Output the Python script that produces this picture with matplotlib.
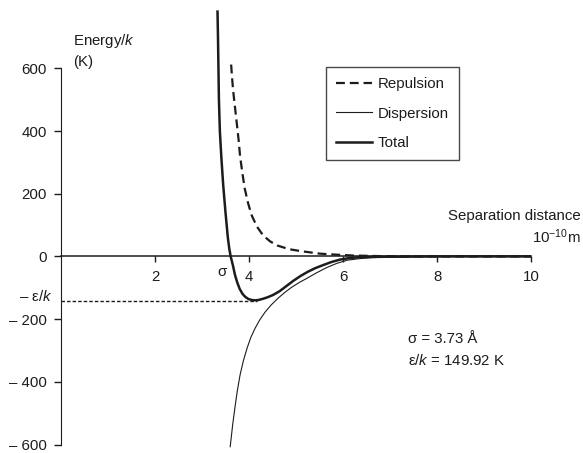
import matplotlib
matplotlib.use("Agg")
import matplotlib.pyplot as plt

plt.rcParams['font.family'] = ['Liberation Sans', 'DejaVu Sans']
plt.rcParams['mathtext.fontset'] = 'custom'
plt.rcParams['mathtext.rm'] = 'Liberation Sans'
plt.rcParams['mathtext.it'] = 'Liberation Sans:italic'

# ---- data ----
rep_r = [3.62, 3.64, 3.66, 3.70, 3.74, 3.78, 3.81, 3.86, 3.91, 3.98, 4.06, 4.17, 4.30,
         4.45, 4.60, 4.75, 4.90, 5.10, 5.30, 5.50, 5.70, 5.95, 6.20, 6.50, 6.80, 7.50, 10.0]
rep_e = [612, 570, 533, 478, 425, 370, 320, 265, 216, 170, 130, 95, 67,
         48, 35, 28, 22, 17, 13, 9, 7, 5, 3, 2, 1, 0, 0]

disp_r = [3.60, 3.65, 3.70, 3.75, 3.81, 3.88, 3.96, 4.04, 4.13, 4.23, 4.34, 4.47, 4.62,
          4.76, 4.91, 5.07, 5.23, 5.44, 5.66, 5.87, 6.09, 6.35, 6.60, 7.00, 7.50, 8.50, 10.0]
disp_e = [-607, -540, -483, -430, -378, -333, -292, -258, -229, -202, -178, -155, -133,
          -115, -98, -83, -70, -52, -35, -22, -12, -7, -4, -2, -1, 0, 0]

tot_r = [3.33, 3.34, 3.35, 3.36, 3.38, 3.41, 3.45, 3.50, 3.55, 3.58, 3.61, 3.66, 3.70,
         3.75, 3.80, 3.86, 3.92, 3.99, 4.06, 4.13, 4.20, 4.30, 4.40, 4.51, 4.65, 4.80,
         4.95, 5.10, 5.25, 5.40, 5.57, 5.75, 5.94, 6.10, 6.30, 6.60, 7.00, 8.00, 10.0]
tot_e = [781, 700, 600, 500, 400, 320, 230, 140, 60, 25, 0, -30, -58,
         -83, -103, -119, -129, -136, -139, -140, -139, -135, -130, -123, -111, -94,
         -77, -62, -49, -38, -28, -18, -10, -6, -3, -1.5, -0.8, 0, 0]

sigma = 3.73
eps_k = 149.92
eps_line_r = [0.0, 4.17]      # extent of the -eps/k guide line
eps_line_e = -143

xticks = [2, 4, 6, 8, 10]
yticks = [600, 400, 200, 0, -200, -400, -600]
yticklabels = ['600', '400', '200', '0', '\u2013 200', '\u2013 400', '\u2013 600']
series_labels = ['Repulsion', 'Dispersion', 'Total']

ink = '#1c1c1c'
fs = 10.8

fig = plt.figure(figsize=(5.83, 4.53), dpi=100)
ax = fig.add_axes([61/583, 0.0, 470/583, 1.0])
ax.set_xlim(0, 10)
ax.set_ylim(-627, 818)

l1, = ax.plot(rep_r, rep_e, color=ink, lw=1.6, ls=(0, (4, 2.2)), label=series_labels[0])
l2, = ax.plot(disp_r, disp_e, color=ink, lw=0.8, label=series_labels[1])
l3, = ax.plot(tot_r, tot_e, color=ink, lw=1.8, label=series_labels[2])

ax.plot(eps_line_r, [eps_line_e, eps_line_e], color=ink, lw=1.0, ls=(0, (2.5, 1.5)))

# spines
for s in ['top', 'right']:
    ax.spines[s].set_visible(False)
ax.spines['left'].set_bounds(-600, 600)
ax.spines['left'].set_color(ink)
ax.spines['bottom'].set_position(('data', 0))
ax.spines['bottom'].set_bounds(0, 10)
ax.spines['bottom'].set_color(ink)
ax.spines['bottom'].set_linewidth(1.1)

ax.set_xticks(xticks)
ax.set_xticklabels([str(t) for t in xticks])
ax.set_yticks(yticks)
ax.set_yticklabels(yticklabels)
ax.tick_params(axis='both', labelsize=fs, colors=ink, length=5, width=1.0, direction='out')
ax.tick_params(axis='x', pad=6, length=4)
ax.tick_params(axis='y', pad=5)

# annotations
ax.text(0.25, 686, 'Energy/$k$', fontsize=fs, color=ink, va='center', ha='left')
ax.text(0.25, 620, '(K)', fontsize=fs, color=ink, va='center', ha='left')
ax.text(11.05, 130, 'Separation distance', fontsize=fs, color=ink, va='center', ha='right', clip_on=False)
ax.text(11.05, 62, '10$^{-10}$m', fontsize=fs, color=ink, va='center', ha='right', clip_on=False)
ax.text(3.43, -50, '\u03c3', fontsize=fs, color=ink, va='center', ha='center')
ax.text(-0.18, -128, '\u2013 \u03b5/$k$', fontsize=fs, color=ink, va='center', ha='right', clip_on=False)
ax.text(7.38, -262, f'\u03c3 = {sigma} \u00c5', fontsize=fs, color=ink, va='center', ha='left')
ax.text(7.38, -332, f'\u03b5/$k$ = {eps_k} K', fontsize=fs, color=ink, va='center', ha='left')

leg = ax.legend(handles=[l1, l2, l3], loc='upper left', bbox_to_anchor=(0.564, 0.852),
                fontsize=fs, frameon=True, fancybox=False, edgecolor=ink,
                handlelength=2.4, labelspacing=1.05, borderpad=0.65, handletextpad=0.4,
                borderaxespad=0)
leg.get_frame().set_linewidth(1.0)
for t in leg.get_texts():
    t.set_color(ink)

fig.savefig('out.png', dpi=100)
